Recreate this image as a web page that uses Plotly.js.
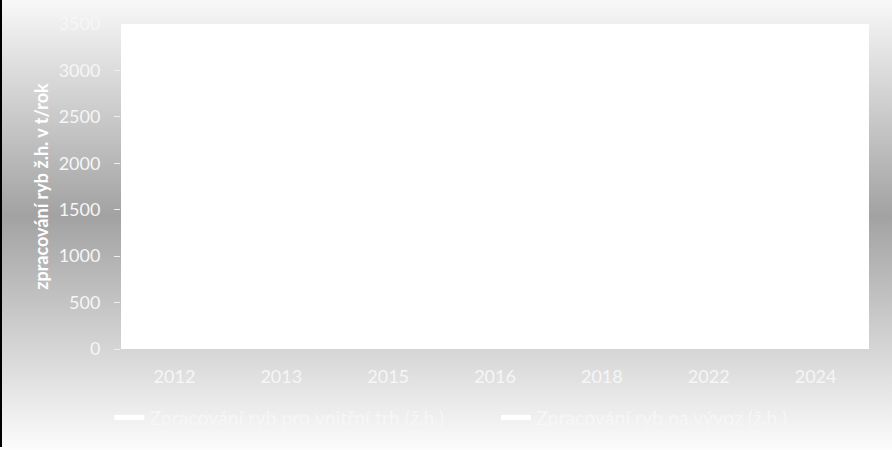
<!DOCTYPE html>
<html>
<head>
<meta charset="utf-8">
<script src="https://cdn.plot.ly/plotly-3.0.1.min.js"></script>
<style>
html,body{margin:0;padding:0;background:#fff;}
#wrap{position:relative;width:892px;height:450px;background:linear-gradient(to bottom,#f8f8f8 0%,#a2a2a2 48%,#fcfcfc 100%);}
#edge{position:absolute;left:0;top:0;width:2px;height:447px;background:#000;}
#chart{position:absolute;left:0;top:0;width:892px;height:450px;}
</style>
</head>
<body>
<div id="wrap"><div id="edge"></div><div id="chart"></div></div>
<script>
const years = ['2012','2013','2015','2016','2018','2022','2024'];
const domesticName = 'Zpracování ryb pro vnitřní trh (ž.h.)';
const exportName = 'Zpracování ryb na vývoz (ž.h.)';
const domesticValues = [2000, 2100, 2250, 2400, 2600, 2850, 3000];
const exportValues = [600, 550, 500, 450, 400, 350, 300];
const yTicks = [0, 500, 1000, 1500, 2000, 2500, 3000, 3500];

const font = {family: 'Lato, "Noto Sans", sans-serif', size: 18, color: '#f6f6f6'};
const legendFont = {family: 'Lato, "Noto Sans", sans-serif', size: 19.5, color: '#f6f6f6'};

const traces = [
  {x: years, y: domesticValues, name: domesticName, type: 'scatter', mode: 'lines',
   line: {color: '#ffffff', width: 5}, legend: 'legend'},
  {x: years, y: exportValues, name: exportName, type: 'scatter', mode: 'lines',
   line: {color: '#ffffff', width: 5}, legend: 'legend2'}
];

const legendBase = {orientation: 'h', y: -0.212, yanchor: 'middle', xanchor: 'left',
  font: legendFont, bgcolor: 'rgba(0,0,0,0)', borderwidth: 0};

const layout = {
  width: 892, height: 450,
  margin: {l: 121, r: 23, t: 24, b: 101, autoexpand: false},
  paper_bgcolor: 'rgba(0,0,0,0)',
  plot_bgcolor: '#ffffff',
  font: font,
  showlegend: true,
  legend: Object.assign({}, legendBase, {x: -0.0156}),
  legend2: Object.assign({}, legendBase, {x: 0.5014}),
  xaxis: {type: 'category', categoryorder: 'array', categoryarray: years,
          range: [-0.5, 6.5], showgrid: false, zeroline: false, showline: false,
          ticks: '', tickfont: font, ticklabelstandoff: 15, automargin: false, fixedrange: true},
  yaxis: {range: [0, 3500], tickvals: yTicks, ticktext: yTicks.map(String),
          showgrid: false, zeroline: false, showline: false,
          ticks: 'outside', ticklen: 6, tickcolor: '#eeeeee', tickwidth: 1,
          tickfont: font, ticklabelstandoff: 10, automargin: false, fixedrange: true,
          title: {text: 'zpracování ryb ž.h. v t/rok', standoff: 5,
                  font: {family: 'Lato, "Noto Sans", sans-serif', size: 18, color: '#ffffff', weight: 'bold'}}}
};

Plotly.newPlot('chart', traces, layout, {displayModeBar: false, staticPlot: true});
</script>
</body>
</html>
